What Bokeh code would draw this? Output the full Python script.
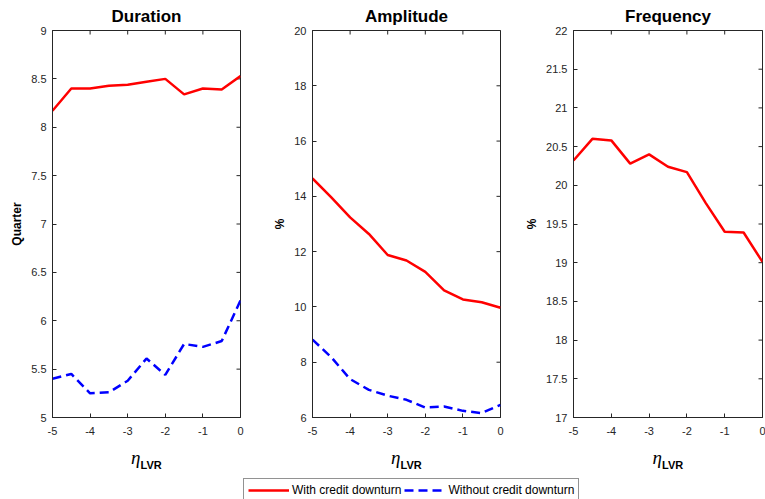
import math
from bokeh.plotting import figure
from bokeh.layouts import column, row
from bokeh.models import Range1d, FixedTicker, Legend, LegendItem
from bokeh.core.properties import value
from bokeh.embed import file_html
from bokeh.resources import INLINE

# ---- data ----
eta = [-5, -4.5, -4, -3.5, -3, -2.5, -2, -1.5, -1, -0.5, 0]
duration_with = [8.17, 8.40, 8.40, 8.43, 8.44, 8.47, 8.50, 8.34, 8.40, 8.39, 8.53]
duration_without = [5.40, 5.45, 5.25, 5.26, 5.38, 5.61, 5.44, 5.76, 5.73, 5.79, 6.21]
amplitude_with = [14.65, 13.96, 13.24, 12.64, 11.88, 11.68, 11.27, 10.60, 10.27, 10.17, 9.97]
amplitude_without = [8.82, 8.18, 7.39, 7.00, 6.79, 6.64, 6.36, 6.40, 6.24, 6.16, 6.46]
frequency_with = [20.32, 20.60, 20.58, 20.28, 20.40, 20.24, 20.17, 19.77, 19.40, 19.39, 19.01]

x_ticks = [-5, -4, -3, -2, -1, 0]
x_tick_labels = ["-5", "-4", "-3", "-2", "-1", "0"]
dur_ticks = [5, 5.5, 6, 6.5, 7, 7.5, 8, 8.5, 9]
dur_labels = ["5", "5.5", "6", "6.5", "7", "7.5", "8", "8.5", "9"]
amp_ticks = [6, 8, 10, 12, 14, 16, 18, 20]
amp_labels = ["6", "8", "10", "12", "14", "16", "18", "20"]
freq_ticks = [17, 17.5, 18, 18.5, 19, 19.5, 20, 20.5, 21, 21.5, 22]
freq_labels = ["17", "17.5", "18", "18.5", "19", "19.5", "20", "20.5", "21", "21.5", "22"]

FONT = "Liberation Sans"
AX = "#262626"
RED = "#ff0000"
BLUE = "#0000ff"
DASH = "9 5"
TOP_H = 441
STRIP_H = 499 - TOP_H


def panel(title, ylab, yr, yticks, ylabels, width, left, right):
    p = figure(width=width, height=TOP_H, output_backend="svg", toolbar_location=None,
               x_range=Range1d(-5, 0), y_range=Range1d(*yr),
               min_border_left=left, min_border_right=right,
               min_border_top=30, min_border_bottom=24)
    p.title.text = title
    p.title.align = "center"
    p.title.text_font = FONT
    p.title.text_font_size = "17px"
    p.title.text_font_style = "bold"
    p.title.text_color = "black"
    p.title.standoff = 9
    p.grid.visible = False
    p.outline_line_color = AX
    for ax, ticks, labels in ((p.xaxis[0], x_ticks, x_tick_labels), (p.yaxis[0], yticks, ylabels)):
        ax.ticker = FixedTicker(ticks=ticks)
        ax.major_label_overrides = {t: l for t, l in zip(ticks, labels)}
        ax.major_label_text_font = FONT
        ax.major_label_text_font_size = "11px"
        ax.major_label_text_color = AX
        ax.major_tick_in = 4
        ax.major_tick_out = 0
        ax.minor_tick_line_color = None
        ax.axis_line_color = AX
        ax.major_tick_line_color = AX
    p.xaxis.major_label_standoff = 9
    p.yaxis.major_label_standoff = 6
    p.yaxis.axis_label = ylab
    p.yaxis.axis_label_text_font = FONT
    p.yaxis.axis_label_text_font_size = "12px"
    p.yaxis.axis_label_text_font_style = "bold"
    p.yaxis.axis_label_text_color = "black"
    p.yaxis.axis_label_standoff = 4
    # mirrored inward ticks on the top and right edges (half of each dash is clipped by the frame)
    p.scatter(x_ticks, [yr[1]] * len(x_ticks), marker="dash", size=8, angle=math.pi / 2,
              line_color=AX, line_width=1)
    p.scatter([0] * len(yticks), yticks, marker="dash", size=8, line_color=AX, line_width=1)
    return p


PANELS = [(260, 52, 20), (260, 52, 20), (245, 53, 3)]

p1 = panel("Duration", "Quarter", (5, 9), dur_ticks, dur_labels, *PANELS[0])
p1.line(eta, duration_with, line_color=RED, line_width=2.5)
p1.line(eta, duration_without, line_color=BLUE, line_width=2.5, line_dash=DASH)

p2 = panel("Amplitude", "%", (6, 20), amp_ticks, amp_labels, *PANELS[1])
p2.line(eta, amplitude_with, line_color=RED, line_width=2.5)
p2.line(eta, amplitude_without, line_color=BLUE, line_width=2.5, line_dash=DASH)

p3 = panel("Frequency", "%", (17, 22), freq_ticks, freq_labels, *PANELS[2])
p3.line(eta, frequency_with, line_color=RED, line_width=2.5)

# bottom strip: x-axis labels (eta_LVR) and the shared legend, in pixel coordinates
lf = figure(width=765, height=STRIP_H, output_backend="svg", toolbar_location=None,
            x_range=Range1d(0, 765), y_range=Range1d(0, STRIP_H), min_border=0,
            x_axis_location=None, y_axis_location=None)
lf.grid.visible = False
lf.outline_line_color = None

centers = []
x0 = 0
for w, l, r in PANELS:
    centers.append(x0 + l + (w - l - r) / 2.0)
    x0 += w

lf.text([c - 6 for c in centers], [STRIP_H - 16] * 3, text=["η"] * 3,
        text_align="right", text_baseline="alphabetic",
        text_font=value("Liberation Serif"), text_font_size="19px",
        text_font_style="italic", text_color="black")
lf.text([c - 6 for c in centers], [STRIP_H - 23] * 3, text=["LVR"] * 3,
        text_align="left", text_baseline="alphabetic",
        text_font=value(FONT), text_font_size="11px",
        text_font_style="bold", text_color="black")

r1 = lf.line([-20, -10], [0, 0], line_color=RED, line_width=2.5)
r2 = lf.line([-20, -10], [0, 0], line_color=BLUE, line_width=2.5, line_dash=DASH)
legend = Legend(items=[LegendItem(label="With credit downturn", renderers=[r1]),
                       LegendItem(label="Without credit downturn", renderers=[r2])],
                orientation="horizontal", location=(243, -3),
                label_text_font=FONT, label_text_font_size="12px", label_text_color="black",
                glyph_width=41, glyph_height=12, label_standoff=3, spacing=3,
                padding=4, margin=0, border_line_color=AX, border_line_width=1,
                label_height=12)
lf.add_layout(legend)

layout = column(row(p1, p2, p3), lf)
open("out.html", "w").write(file_html(layout, INLINE))
